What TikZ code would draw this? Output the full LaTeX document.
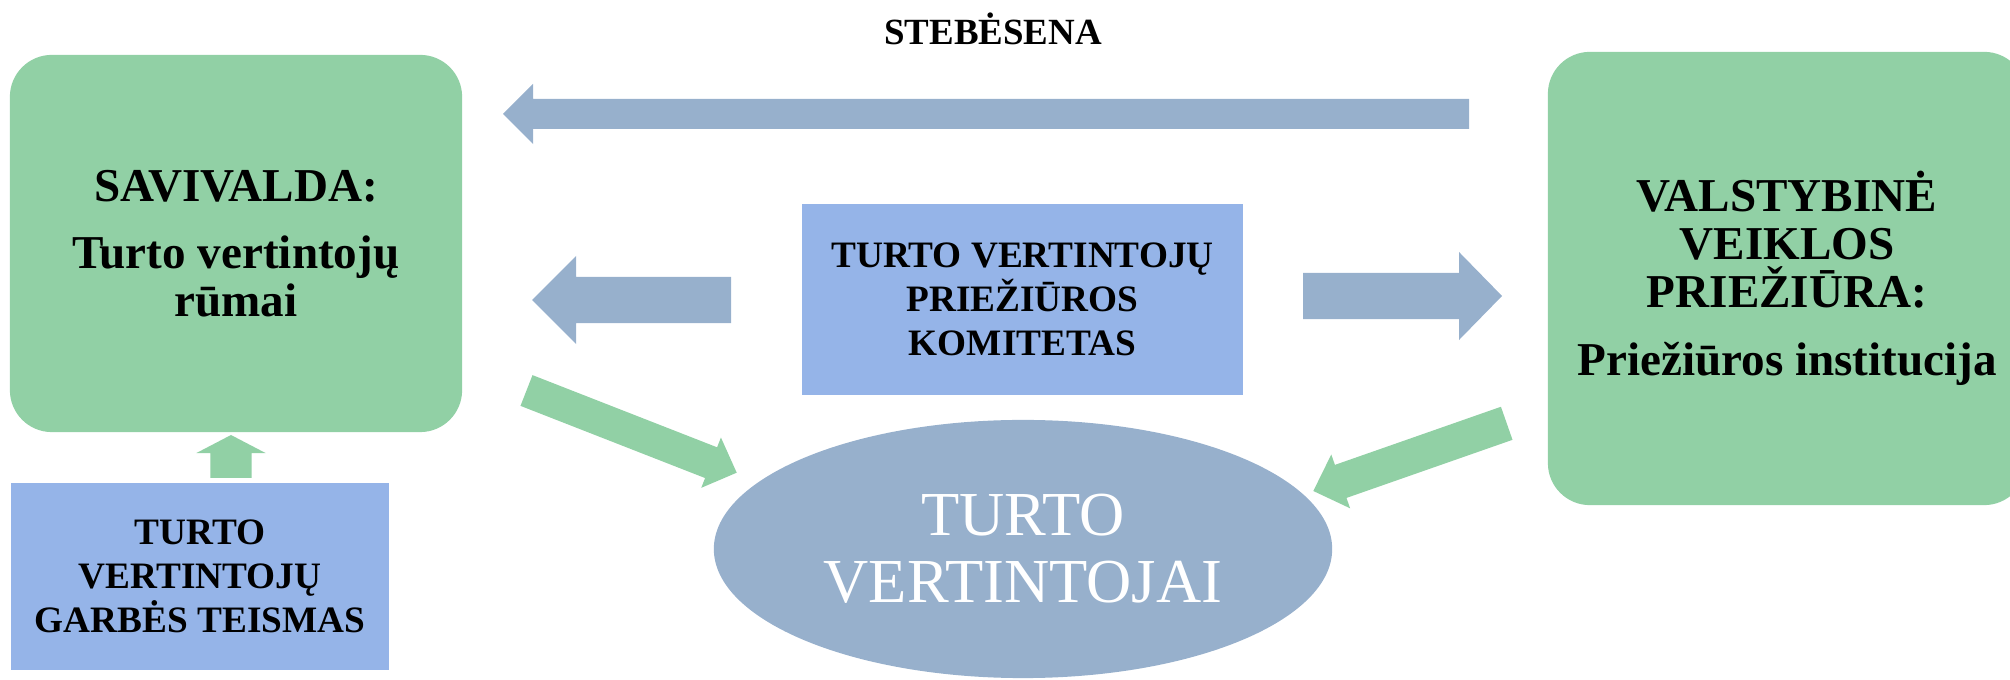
\documentclass[tikz,border=0pt]{standalone}
\usepackage{fontspec}
\setmainfont{Liberation Serif}
\usetikzlibrary{shapes.geometric,calc}
\definecolor{boxgreen}{RGB}{145,208,165}
\definecolor{boxblue}{RGB}{149,180,232}
\definecolor{arrowgrey}{RGB}{151,176,204}
% block arrow: tail, tip, shaft half width, head half width, head length, colour
\newcommand{\blkarrow}[6]{%
  \coordinate (hb) at ($(#2)!#5!(#1)$);
  \fill[#6] ($(#1)!#3!90:(#2)$) -- ($(hb)!#3!90:(#2)$) -- ($(hb)!#4!90:(#2)$) -- (#2)
    -- ($(hb)!#4!-90:(#2)$) -- ($(hb)!#3!-90:(#2)$) -- ($(#1)!#3!-90:(#2)$) -- cycle;}
\begin{document}
\begin{tikzpicture}[x=0.01cm,y=-0.01cm,
  greenbox/.style={fill=boxgreen,rounded corners=0.42cm,align=center,inner sep=0pt,
    font=\fontsize{13.4pt}{13.66pt}\selectfont\bfseries},
  bluebox/.style={fill=boxblue,align=center,inner sep=0pt,
    font=\fontsize{10.6pt}{12.45pt}\selectfont\bfseries}]
\useasboundingbox (0,0) rectangle (2010,680);
\clip (0,0) rectangle (2010,680);
% boxes
\node (sav) [greenbox,minimum width=4.52cm,minimum height=3.77cm] at (236,243.5)
  {SAVIVALDA:\\[5.4pt] Turto vertintojų\\ rūmai};
\node (vvp) [greenbox,minimum width=4.78cm,minimum height=4.53cm] at (1787,278.5)
  {VALSTYBINĖ\\ VEIKLOS\\ PRIEŽIŪRA:\\[5.7pt] Priežiūros institucija};
\node (ktt) [bluebox,minimum width=4.41cm,minimum height=1.91cm] at (1022.5,299.5)
  {TURTO VERTINTOJŲ\\ PRIEŽIŪROS\\ KOMITETAS};
\node (gt) [bluebox,minimum width=3.78cm,minimum height=1.87cm] at (200,576.5)
  {TURTO\\ VERTINTOJŲ\\ GARBĖS TEISMAS};
\node (tv) [ellipse,fill=arrowgrey,text=white,align=center,inner sep=0pt,
  minimum width=6.18cm,minimum height=2.58cm,
  font=\fontsize{17.8pt}{19.06pt}\selectfont] at (1023,549) {TURTO\\ VERTINTOJAI};
\node (steb) [anchor=base,font=\fontsize{10.5pt}{12pt}\selectfont\bfseries] at (993,45) {STEBĖSENA};
% arrow ends
\coordinate (topA) at (1469,114);   \coordinate (topB) at (503,114);
\coordinate (midLA) at (731,300);   \coordinate (midLB) at (532,300);
\coordinate (midRA) at (1303,296);  \coordinate (midRB) at (1502,296);
\coordinate (upA) at (231,478);     \coordinate (upB) at (231,435);
\coordinate (grLA) at (526.5,390.5); \coordinate (grLB) at (736.7,472.7);
\coordinate (grRA) at (1506.7,423.3); \coordinate (grRB) at (1313.3,491);
% arrows
\blkarrow{topA}{topB}{0.15cm}{0.30cm}{0.30cm}{arrowgrey}
\blkarrow{midLA}{midLB}{0.23cm}{0.44cm}{0.44cm}{arrowgrey}
\blkarrow{midRA}{midRB}{0.23cm}{0.44cm}{0.43cm}{arrowgrey}
\blkarrow{upA}{upB}{0.205cm}{0.345cm}{0.18cm}{boxgreen}
\blkarrow{grLA}{grLB}{0.165cm}{0.27cm}{0.275cm}{boxgreen}
\blkarrow{grRA}{grRB}{0.175cm}{0.285cm}{0.29cm}{boxgreen}
\end{tikzpicture}
\end{document}
